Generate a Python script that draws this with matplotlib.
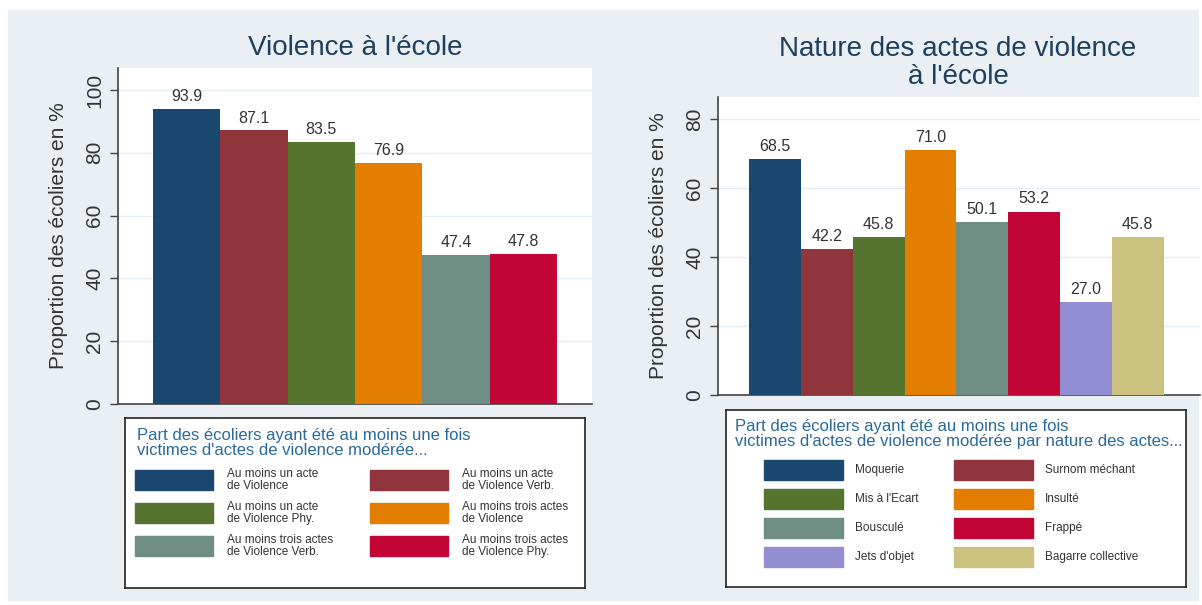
import matplotlib.pyplot as plt
from matplotlib.patches import Rectangle

plt.rcParams['font.family'] = ['Liberation Sans', 'DejaVu Sans']

# data
left_labels = ["Au moins un acte\nde Violence", "Au moins un acte\nde Violence Verb.",
               "Au moins un acte\nde Violence Phy.", "Au moins trois actes\nde Violence",
               "Au moins trois actes\nde Violence Verb.", "Au moins trois actes\nde Violence Phy."]
left_values = [93.9, 87.1, 83.5, 76.9, 47.4, 47.8]

right_labels = ["Moquerie", "Surnom méchant", "Mis à l'Ecart", "Insulté",
                "Bousculé", "Frappé", "Jets d'objet", "Bagarre collective"]
right_values = [68.5, 42.2, 45.8, 71.0, 50.1, 53.2, 27.0, 45.8]

colors = ["#1a476f", "#90353b", "#55752f", "#e37e00", "#6e8e84", "#c10534", "#938dd2", "#cac27e"]

W, H = 1202, 605
bg = "#e9eff2"
title_col = "#1f3f5e"
txt_col = "#333333"

fig = plt.figure(figsize=(W / 100, H / 100), dpi=100, facecolor="white")
fig.patches.append(Rectangle((8 / W, 1 - 600 / H), 1190 / W, 590 / H,
                             transform=fig.transFigure, color=bg, zorder=-10))


def px(x0, y0, x1, y1):
    return [x0 / W, 1 - y1 / H, (x1 - x0) / W, (y1 - y0) / H]


def bar_panel(rect, values, cols, ylim, xlim, ticks):
    ax = fig.add_axes(rect)
    ax.set_facecolor("white")
    x = range(len(values))
    ax.bar(x, values, width=1.0, color=cols[:len(values)], zorder=3)
    for xi, v in zip(x, values):
        ax.text(xi, v + 1.5, f"{v:.1f}", ha="center", va="bottom", fontsize=11.5, color=txt_col, zorder=4)
    ax.set_ylim(*ylim)
    ax.set_xlim(*xlim)
    ax.set_yticks(ticks)
    ax.set_yticklabels([str(t) for t in ticks], rotation=90, va="center", fontsize=15, color=txt_col)
    ax.set_xticks([])
    ax.tick_params(axis="y", length=6, width=1, color="#444444", pad=4)
    for s in ["top", "right"]:
        ax.spines[s].set_visible(False)
    for s in ["left", "bottom"]:
        ax.spines[s].set_color("#444444")
        ax.spines[s].set_linewidth(1.2)
    ax.yaxis.grid(True, color="#e3edf3", linewidth=1, zorder=0)
    ax.set_ylabel("Proportion des écoliers en %", fontsize=15, color=txt_col, labelpad=12)
    return ax


axl = bar_panel(px(118, 68, 592, 404), left_values, colors, (0, 107), (-1.02, 6.02), [0, 20, 40, 60, 80, 100])
fig.text(355 / W, 1 - 48 / H, "Violence à l'école", ha="center", va="center", fontsize=20, color=title_col)

axr = bar_panel(px(718, 97, 1200, 395), right_values, colors, (0, 86.4), (-1.1, 8.2), [0, 20, 40, 60, 80])
fig.text(958 / W, 1 - 63 / H, "Nature des actes de violence\nà l'école", ha="center", va="center",
         fontsize=20, color=title_col, linespacing=1.15)


def legend_box(rect, title, labels, cols, sw_x, lab_x, rows_y, sw_w, sw_h, title_y, title_x, box):
    x0, y0, x1, y1 = box
    lg = fig.add_axes(rect)
    lg.set_xlim(x0, x1)
    lg.set_ylim(y1, y0)
    lg.set_facecolor("white")
    lg.set_xticks([])
    lg.set_yticks([])
    for s in lg.spines.values():
        s.set_color("#222222")
        s.set_linewidth(1.2)
    lg.text(title_x, title_y, title, ha="left", va="top", fontsize=12, color="#2a6a9a", linespacing=1.0)
    for i, (lab, c) in enumerate(zip(labels, cols)):
        r, col = divmod(i, 2)
        yc = rows_y[r]
        lg.add_patch(Rectangle((sw_x[col], yc - sw_h / 2), sw_w, sw_h, color=c))
        lg.text(lab_x[col], yc, lab, ha="left", va="center", fontsize=8.5, color=txt_col, linespacing=1.0)
    return lg


legend_box(px(125, 418, 585, 588),
           "Part des écoliers ayant été au moins une fois\nvictimes d'actes de violence modérée...",
           left_labels, colors, [135, 370], [227, 462], [480, 513, 546], 78, 20, 428, 137,
           (125, 418, 585, 588))

legend_box(px(726, 410, 1186, 587),
           "Part des écoliers ayant été au moins une fois\nvictimes d'actes de violence modérée par nature des actes...",
           right_labels, colors, [764, 954], [855, 1045], [470, 499, 528, 557], 79, 20, 419, 735,
           (726, 410, 1186, 587))

fig.savefig("out.png", dpi=100, facecolor=fig.get_facecolor())
